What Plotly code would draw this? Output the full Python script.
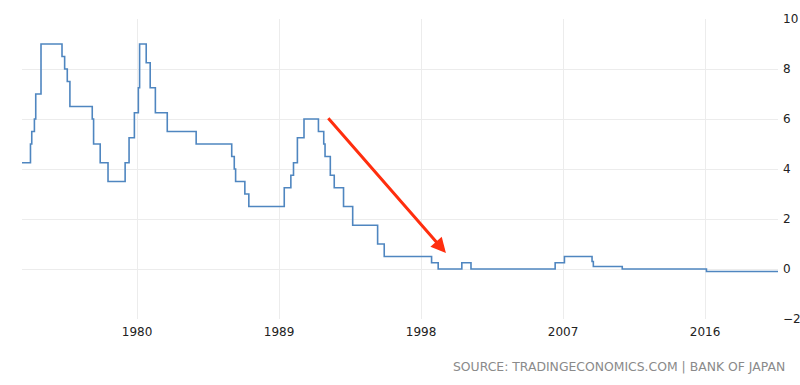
import plotly.graph_objects as go

# Japan policy interest rate (step changes)
dates = [
    "1972-06-01", "1973-04-01", "1973-05-01", "1973-07-01", "1973-08-01", "1973-12-01",
    "1975-04-01", "1975-06-01", "1975-08-01", "1975-10-01",
    "1977-03-01", "1977-04-01", "1977-09-01", "1978-03-01",
    "1979-04-01", "1979-07-01", "1979-11-01",
    "1980-02-01", "1980-03-01", "1980-08-01", "1980-11-01",
    "1981-03-01", "1981-12-01", "1983-10-01",
    "1986-01-01", "1986-03-01", "1986-04-01", "1986-11-01", "1987-02-01",
    "1989-05-01", "1989-10-01", "1989-12-01", "1990-03-01", "1990-08-01",
    "1991-07-01", "1991-11-01", "1991-12-01", "1992-04-01", "1992-07-01",
    "1993-02-01", "1993-09-01", "1995-04-01", "1995-09-01",
    "1998-09-01", "1999-02-01", "2000-08-01", "2001-03-01",
    "2006-07-01", "2007-02-01", "2008-11-01", "2008-12-01", "2010-10-01",
    "2016-02-01", "2020-10-01",
]
rates = [
    4.25, 5.0, 5.5, 6.0, 7.0, 9.0,
    8.5, 8.0, 7.5, 6.5,
    6.0, 5.0, 4.25, 3.5,
    4.25, 5.25, 6.25,
    7.25, 9.0, 8.25, 7.25,
    6.25, 5.5, 5.0,
    4.5, 4.0, 3.5, 3.0, 2.5,
    3.25, 3.75, 4.25, 5.25, 6.0,
    5.5, 5.0, 4.5, 3.75, 3.25,
    2.5, 1.75, 1.0, 0.5,
    0.25, 0.0, 0.25, 0.0,
    0.25, 0.5, 0.3, 0.1, 0.0,
    -0.1, -0.1,
]

x_tick_vals = ["1980-01-01", "1989-01-01", "1998-01-01", "2007-01-01", "2016-01-01"]
x_tick_text = ["1980", "1989", "1998", "2007", "2016"]
y_tick_vals = [-2, 0, 2, 4, 6, 8, 10]

arrow_start = ("1992-01-15", 6.09)
arrow_end = ("1999-07-30", 0.64)

source_text = "SOURCE: TRADINGECONOMICS.COM | BANK OF JAPAN"

fig = go.Figure()
fig.add_trace(go.Scatter(
    x=dates, y=rates, mode="lines",
    line=dict(color="#4f86c0", width=1.6, shape="hv"),
    hoverinfo="skip", showlegend=False,
))

fig.add_annotation(
    x=arrow_end[0], y=arrow_end[1], ax=arrow_start[0], ay=arrow_start[1],
    xref="x", yref="y", axref="x", ayref="y",
    showarrow=True, arrowhead=2, arrowsize=1, arrowwidth=3,
    arrowcolor="#ff2e0e", text="",
)

fig.add_annotation(
    text=source_text, xref="paper", yref="paper",
    x=1.0119, y=-0.157, xanchor="right", yanchor="middle",
    showarrow=False,
    font=dict(family="DejaVu Sans", size=12.4, color="#8a8a8a"),
)

fig.update_layout(
    width=800, height=385,
    margin=dict(l=22, r=22, t=19, b=66, autoexpand=False),
    paper_bgcolor="white", plot_bgcolor="white",
    font=dict(family="DejaVu Sans", size=12, color="#333333"),
)
fig.update_xaxes(
    type="date", range=["1972-09-17", "2020-08-14"],
    tickvals=x_tick_vals, ticktext=x_tick_text,
    showgrid=True, gridcolor="#ececec", gridwidth=1,
    zeroline=False, showline=False, ticks="", automargin=False,
    ticklabelstandoff=4,
    tickfont=dict(family="DejaVu Sans", size=12, color="#222222"),
)
fig.update_yaxes(
    range=[-2, 10], tickvals=y_tick_vals, side="right",
    showgrid=True, gridcolor="#ececec", gridwidth=1,
    zeroline=False, showline=False, ticks="", automargin=False,
    ticklabelstandoff=4,
    tickfont=dict(family="DejaVu Sans", size=12, color="#222222"),
)

fig.write_html("out.html", config={"displayModeBar": False})
with open("out.html", "r", encoding="utf-8") as f:
    html = f.read()
html = html.replace("<head>", "<head><style>html,body{margin:0;padding:0;overflow:hidden}</style>", 1)
with open("out.html", "w", encoding="utf-8") as f:
    f.write(html)
